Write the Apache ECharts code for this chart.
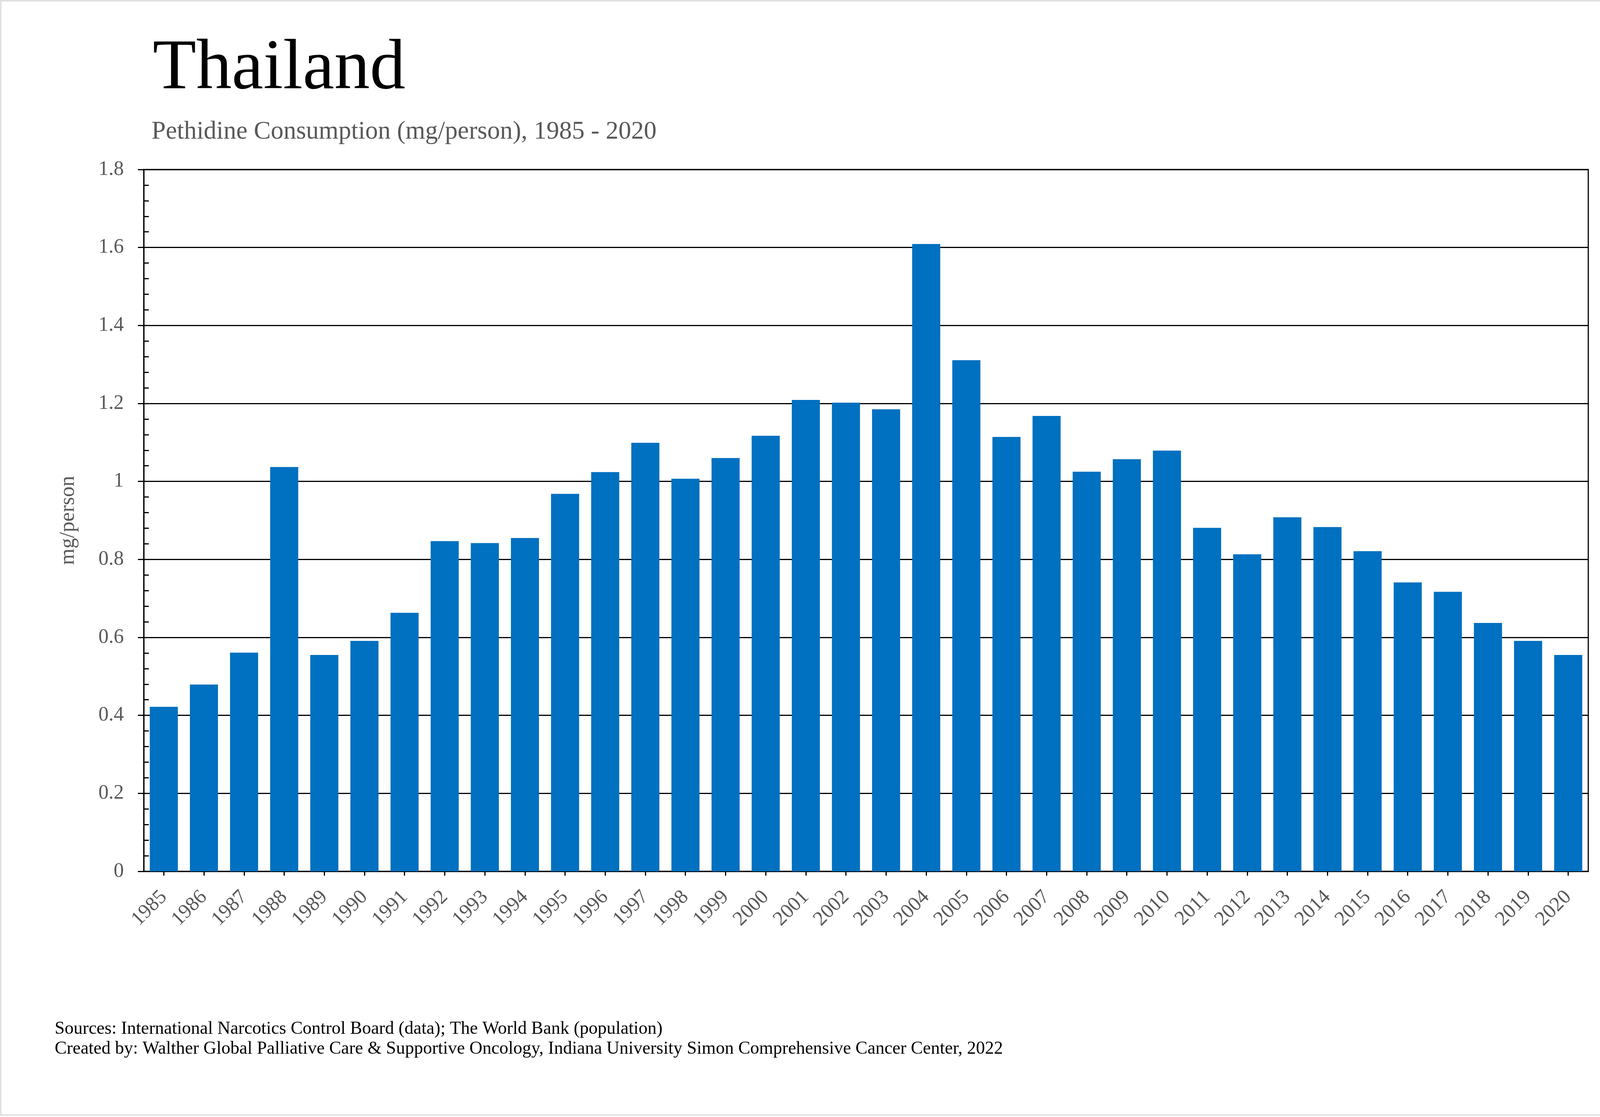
<!DOCTYPE html>
<html>
<head>
<meta charset="utf-8">
<script src="https://cdn.jsdelivr.net/npm/echarts@6/dist/echarts.min.js"></script>
<style>
html,body{margin:0;padding:0;background:#fff;overflow:hidden;}
#c{width:4221px;height:2860px;}
</style>
</head>
<body>
<div id="c"></div>
<script>
const titleText = 'Thailand';
const subtitleText = 'Pethidine Consumption (mg/person), 1985 - 2020';
const yAxisName = 'mg/person';
const footerLines = [
  'Sources: International Narcotics Control Board (data); The World Bank (population)',
  'Created by: Walther Global Palliative Care & Supportive Oncology, Indiana University Simon Comprehensive Cancer Center, 2022'
];
const years = ['1985','1986','1987','1988','1989','1990','1991','1992','1993','1994',
  '1995','1996','1997','1998','1999','2000','2001','2002','2003','2004',
  '2005','2006','2007','2008','2009','2010','2011','2012','2013','2014',
  '2015','2016','2017','2018','2019','2020'];
const consumption = [0.422,0.479,0.561,1.037,0.555,0.591,0.663,0.847,0.842,0.855,
  0.968,1.024,1.099,1.007,1.060,1.117,1.209,1.202,1.185,1.609,
  1.311,1.114,1.168,1.025,1.057,1.079,0.881,0.813,0.908,0.883,
  0.821,0.741,0.717,0.637,0.591,0.555];
const yMin = 0, yMax = 1.8, yStep = 0.2;

const FONT = "'Liberation Serif', 'Times New Roman', serif";
const GREY = '#595959';

const chart = echarts.init(document.getElementById('c'), null, {renderer: 'canvas'});
chart.setOption({
  backgroundColor: '#ffffff',
  animation: false,
  title: [
    {text: titleText, left: 391, top: 87, padding: 0,
     textStyle: {fontFamily: FONT, fontSize: 182, fontWeight: 'normal', color: '#000'}},
    {text: subtitleText, left: 388, top: 305, padding: 0,
     textStyle: {fontFamily: FONT, fontSize: 65, fontWeight: 'normal', color: GREY}},
    {text: footerLines.join('\n'), left: 140, top: 2609, padding: 0,
     textStyle: {fontFamily: FONT, fontSize: 46, lineHeight: 51, fontWeight: 'normal', color: '#000'}}
  ],
  graphic: [{
    type: 'rect', silent: true,
    shape: {x: 2, y: 2, width: 4216, height: 2853},
    style: {fill: 'none', stroke: '#d9d9d9', lineWidth: 3}
  }],
  grid: {left: 368, right: 155, top: 434, bottom: 629, containLabel: false,
    show: true, borderColor: '#000', borderWidth: 3, backgroundColor: 'transparent'},
  xAxis: [
    {type: 'category', data: years, boundaryGap: true, position: 'bottom',
     axisLine: {show: true, lineStyle: {color: '#000', width: 3}},
     axisTick: {show: true, alignWithLabel: true, length: 11, lineStyle: {color: '#000', width: 3}},
     axisLabel: {rotate: 45, margin: 58, interval: 0, color: GREY, fontFamily: FONT, fontSize: 52},
     splitLine: {show: false}},
    {type: 'category', data: years, boundaryGap: true, position: 'bottom',
     axisLine: {show: false},
     axisTick: {show: true, inside: true, alignWithLabel: true, length: 11, lineStyle: {color: '#000', width: 3}},
     axisLabel: {show: false}, splitLine: {show: false}}
  ],
  yAxis: [
    {type: 'value', min: yMin, max: yMax, interval: yStep, position: 'left',
     name: yAxisName, nameLocation: 'middle', nameRotate: 90, nameGap: 166,
     nameTextStyle: {color: GREY, fontFamily: FONT, fontSize: 54},
     axisLine: {show: true, lineStyle: {color: '#000', width: 3}},
     axisTick: {show: true, length: 15, lineStyle: {color: '#000', width: 3}},
     axisLabel: {margin: 51, color: GREY, fontFamily: FONT, fontSize: 52},
     splitLine: {show: true, lineStyle: {color: '#000', width: 3}}},
    {type: 'value', min: yMin, max: yMax, interval: yStep, position: 'left',
     axisLine: {show: false},
     axisTick: {show: false, inside: true},
     minorTick: {show: true, splitNumber: 5, length: 13, lineStyle: {color: '#000', width: 3}},
     axisLabel: {show: false}, splitLine: {show: false}}
  ],
  series: [{
    type: 'bar', data: consumption, xAxisIndex: 0, yAxisIndex: 0,
    barWidth: '70%',
    itemStyle: {color: '#0070C0'}
  }]
});
</script>
</body>
</html>
